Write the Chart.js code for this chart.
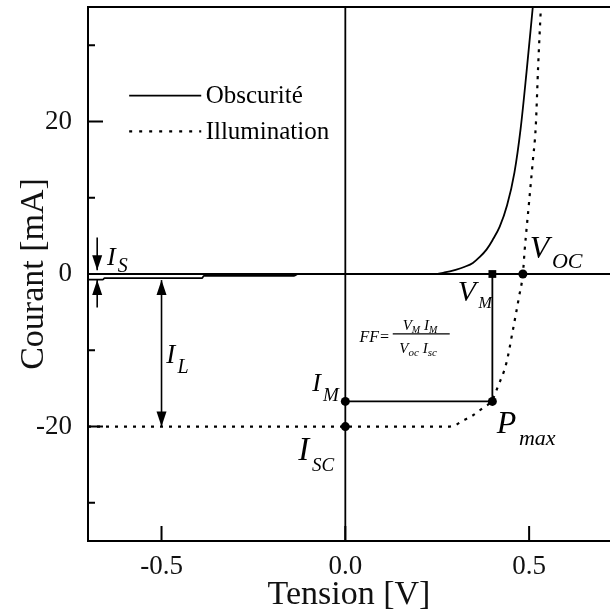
<!DOCTYPE html>
<html>
<head>
<meta charset="utf-8">
<script src="https://cdn.jsdelivr.net/npm/chart.js@4.4.1/dist/chart.umd.min.js"></script>
<style>
html,body{margin:0;padding:0;background:#fff;overflow:hidden}
canvas{display:block}
</style>
</head>
<body>
<canvas id="chart" width="610" height="614" style="width:610px;height:614px"></canvas>
<script>
const serif="'Liberation Serif','Times New Roman',serif"

// dark curve (Obscurité)
const darkV=[-0.7,-0.66,-0.655,-0.39,-0.385,-0.14,-0.13,0.24,0.27,0.30,0.325,0.347,0.365,0.384,0.40,0.42,0.44,0.46,0.477,0.493,0.51]
const darkI=[-0.75,-0.75,-0.55,-0.55,-0.25,-0.25,0,0,0.2,0.55,0.95,1.45,2.2,3.2,4.4,6.2,9.0,13.3,19.1,26.5,35]

// illuminated curve (Illumination)
const illumV=[-0.7,0.28,0.30,0.317,0.345,0.373,0.40,0.415,0.438,0.456,0.4727,0.483,0.488,0.50,0.51,0.518,0.5245,0.532]
const illumI=[-20,-20,-19.8,-19.3,-18.6,-17.6,-16.5,-14.75,-11.7,-7.3,-2.95,0,3.2,9.5,14.8,19.3,27.2,35]

// operating points
const rectV=[0,0.4,0.4]
const rectI=[-16.7,-16.7,0]
const dotV=[0,0.4,0,0.483]
const dotI=[-16.7,-16.7,-20,0]
const sqV=[0.4]
const sqI=[0]

const xTicks=[-0.5,0,0.5]
const yTicks=[-20,0,20]
const yMinor=[-30,-10,10,30]

const pts=(xs,ys)=>xs.map((v,i)=>({x:v,y:ys[i]}))

const labels=[
{t:"I",s:"S",v:-0.648,i:1.2,f:26,fs:20,dy:7},
{t:"I",s:"L",v:-0.487,i:-11.65,f:27,fs:20,dy:10},
{t:"I",s:"M",v:-0.09,i:-15.4,f:26,fs:19,dy:10},
{t:"I",s:"SC",v:-0.128,i:-24.4,f:33,fs:19,dy:11},
{t:"V",s:"M",v:0.306,i:-3.6,f:30,fs:16,dy:7},
{t:"V",s:"OC",v:0.502,i:2.13,f:32,fs:22,dy:10},
{t:"P",s:"max",v:0.412,i:-20.8,f:32,fs:22,dy:12}
]

const noPad=s=>{s.paddingTop=0;s.paddingBottom=0;s.paddingLeft=0;s.paddingRight=0}

const annot={
id:"annot",
beforeDatasetsDraw(c){
const ctx=c.ctx,a=c.chartArea,x=c.scales.x,y=c.scales.y
ctx.save()
ctx.strokeStyle="#000"
ctx.lineWidth=1.8
ctx.beginPath()
ctx.moveTo(x.getPixelForValue(0),a.top)
ctx.lineTo(x.getPixelForValue(0),a.bottom)
ctx.moveTo(a.left,y.getPixelForValue(0))
ctx.lineTo(a.right,y.getPixelForValue(0))
ctx.stroke()
ctx.restore()
},
afterDatasetsDraw(c){
const ctx=c.ctx,a=c.chartArea,x=c.scales.x,y=c.scales.y
const px=v=>x.getPixelForValue(v),py=v=>y.getPixelForValue(v)
ctx.save()
ctx.strokeStyle="#000"
ctx.fillStyle="#000"
ctx.lineWidth=2

ctx.beginPath()
ctx.moveTo(a.left,a.top)
ctx.lineTo(a.right,a.top)
xTicks.forEach(v=>{ctx.moveTo(px(v),a.bottom);ctx.lineTo(px(v),a.bottom-15)})
yTicks.forEach(v=>{ctx.moveTo(a.left,py(v));ctx.lineTo(a.left+15,py(v))})
yMinor.forEach(v=>{ctx.moveTo(a.left,py(v));ctx.lineTo(a.left+7,py(v))})
ctx.stroke()

// arrows
function head(X,Y,dir){
ctx.beginPath()
ctx.moveTo(X,Y)
ctx.lineTo(X-5,Y-dir*15)
ctx.lineTo(X+5,Y-dir*15)
ctx.closePath()
ctx.fill()
}
function arrow(v,i0,i1,both){
const X=px(v),Y0=py(i0),Y1=py(i1),d=Y1>Y0?1:-1
ctx.lineWidth=1.6
ctx.beginPath()
ctx.moveTo(X,Y0)
ctx.lineTo(X,Y1)
ctx.stroke()
head(X,Y1,d)
if(both)head(X,Y0,-d)
}
arrow(-0.675,4.8,0.5)
arrow(-0.675,-4.4,-0.8)
arrow(-0.5,-0.8,-20,true)

// point labels
ctx.textBaseline="alphabetic"
ctx.textAlign="left"
labels.forEach(l=>{
const X=px(l.v),Y=py(l.i)
ctx.font="italic "+l.f+"px "+serif
ctx.fillText(l.t,X,Y)
const w=ctx.measureText(l.t).width
ctx.font="italic "+l.fs+"px "+serif
ctx.fillText(l.s,X+w+l.f*0.08,Y+l.dy)
})

// fill factor
function seq(v,i,parts){
let X=px(v)
const Y=py(i)
parts.forEach(p=>{
ctx.font="italic "+p[1]+"px "+serif
ctx.fillText(p[0],X,Y+p[2])
X+=ctx.measureText(p[0]).width
})
}
seq(0.0387,-8.9,[["FF=",16,0]])
ctx.lineWidth=1.2
ctx.beginPath()
ctx.moveTo(px(0.129),py(-7.84))
ctx.lineTo(px(0.284),py(-7.84))
ctx.stroke()
seq(0.156,-7.35,[["V",15,0],["M",10,3],[" I",15,0],["M",10,3]])
seq(0.147,-10.3,[["V",15,0],["oc",11,3],[" I",15,0],["sc",11,3]])

// legend
const lx0=px(-0.588),lx1=px(-0.392)
ctx.lineWidth=1.8
ctx.beginPath()
ctx.moveTo(lx0,py(23.37))
ctx.lineTo(lx1,py(23.37))
ctx.stroke()
ctx.lineWidth=2.2
ctx.setLineDash([3,7])
ctx.beginPath()
ctx.moveTo(lx0,py(18.69))
ctx.lineTo(lx1,py(18.69))
ctx.stroke()
ctx.setLineDash([])
ctx.font="25px "+serif
ctx.textBaseline="middle"
ctx.fillText("Obscurité",px(-0.38),py(23.37)+1)
ctx.fillText("Illumination",px(-0.38),py(18.69)+1)
ctx.restore()
}
}

new Chart(document.getElementById("chart"),{
type:"scatter",
data:{
datasets:[
{label:"Obscurité",data:pts(darkV,darkI),showLine:true,borderColor:"#000",borderWidth:1.8,pointRadius:0,cubicInterpolationMode:"monotone"},
{label:"Illumination",data:pts(illumV,illumI),showLine:true,borderColor:"#000",borderWidth:2.2,borderDash:[3,6],pointRadius:0,cubicInterpolationMode:"monotone"},
{data:pts(rectV,rectI),showLine:true,borderColor:"#000",borderWidth:1.8,pointRadius:0},
{data:pts(dotV,dotI),showLine:false,pointRadius:4.5,pointBackgroundColor:"#000",pointBorderWidth:0},
{data:pts(sqV,sqI),showLine:false,pointStyle:"rect",pointRadius:5.5,pointBackgroundColor:"#000",pointBorderWidth:0}
]
},
options:{
responsive:false,
animation:false,
layout:{autoPadding:false,padding:{top:7,right:0,left:0,bottom:0}},
plugins:{legend:{display:false},tooltip:{enabled:false}},
scales:{
x:{
type:"linear",min:-0.7,max:0.72,
afterBuildTicks:s=>{s.ticks=xTicks.map(v=>({value:v}))},
afterFit:s=>{s.height=73;noPad(s)},
grid:{display:false,drawTicks:false},
border:{color:"#000",width:2},
ticks:{color:"#111",padding:10,font:{family:serif,size:27},callback:v=>v.toFixed(1)},
title:{display:true,text:"Tension [V]",color:"#111",padding:0,font:{family:serif,size:34,lineHeight:1.1}}
},
y:{
type:"linear",min:-35,max:35,
afterBuildTicks:s=>{s.ticks=yTicks.map(v=>({value:v}))},
afterFit:s=>{s.width=88;noPad(s)},
grid:{display:false,drawTicks:false},
border:{color:"#000",width:2},
ticks:{color:"#111",padding:16,font:{family:serif,size:27},callback:v=>String(v)},
title:{display:true,text:"Courant [mA]",color:"#111",padding:{top:15},font:{family:serif,size:34,lineHeight:1.1}}
}
}
},
plugins:[annot]
})
</script>
</body>
</html>
